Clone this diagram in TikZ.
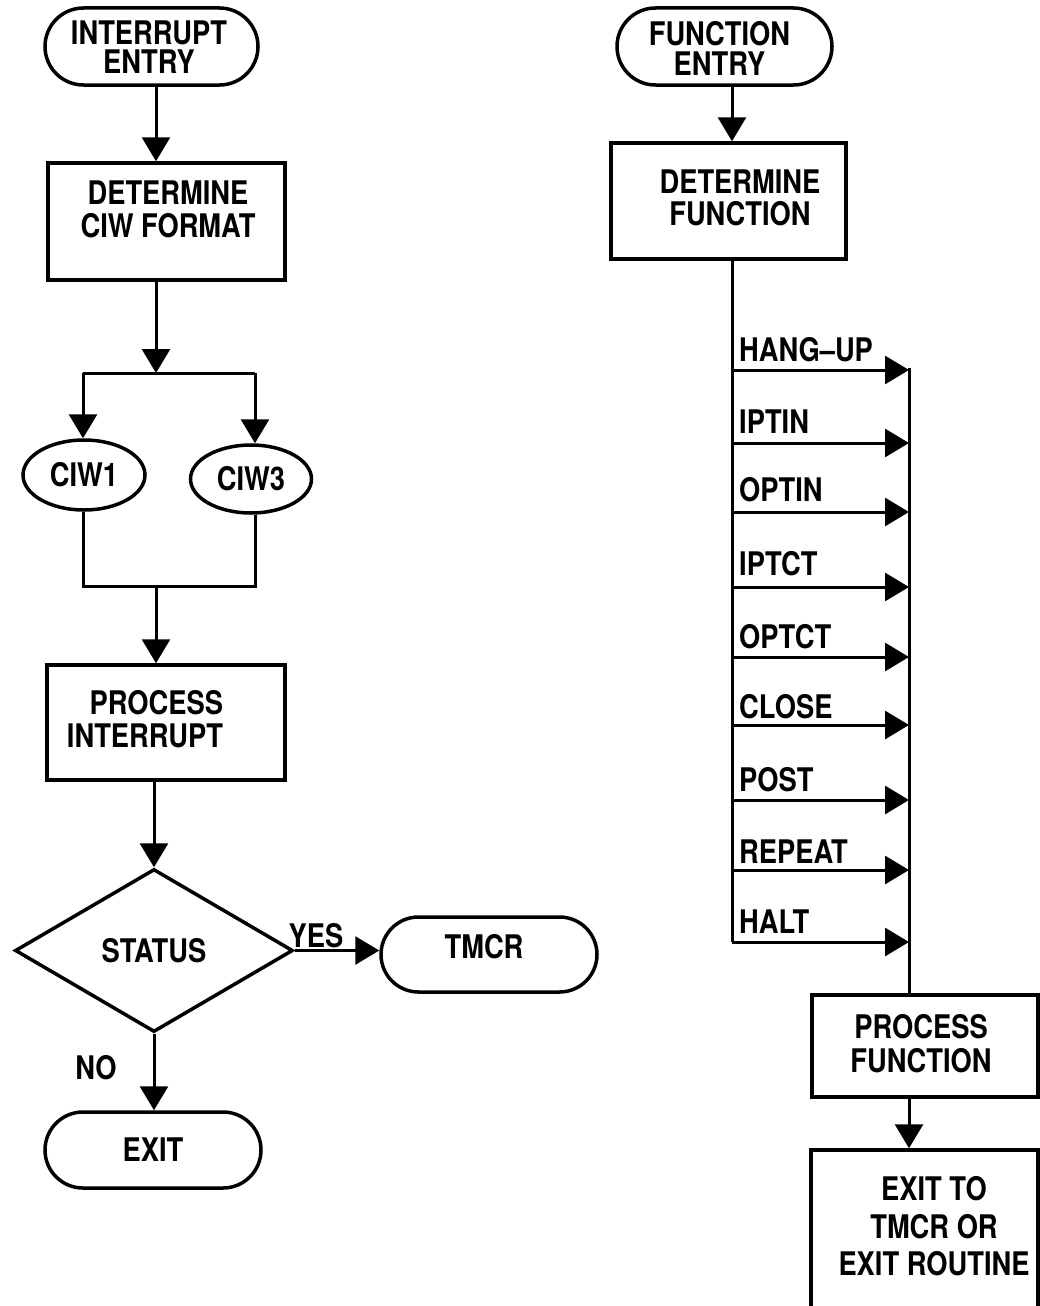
\documentclass[tikz,border=0pt]{standalone}
\usepackage{fontspec}
\newfontfamily\lblfont{TeX Gyre Heros}[FakeStretch=0.84]
\usetikzlibrary{arrows.meta,shapes.geometric,shapes.misc}
\begin{document}
\begin{tikzpicture}[x=1pt,y=-1pt,
  lbl/.style={font=\lblfont\bfseries\fontsize{32.5}{33}\selectfont, inner sep=0pt, align=center},
  shp/.style={draw, line width=3.5pt},
  term/.style={shp, rounded rectangle, inner sep=0pt, lbl},
  boxn/.style={shp, rectangle, inner sep=0pt},
  ell/.style={shp, ellipse, inner sep=0pt, lbl},
  dia/.style={shp, diamond, inner sep=0pt, lbl},
  flow/.style={line width=3pt},
  arr/.style={flow, -{Triangle[length=24pt,width=28pt]}},
]
\clip (0,0) rectangle (1040,1306);
\fill[white] (0,0) rectangle (1040,1306);

% ---------------- left column ----------------
\coordinate (L) at (156,0);
\node[term, minimum width=213pt, minimum height=77pt] (e1) at (151.5,46.5) {};
\node[lbl, font=\lblfont\bfseries\fontsize{32.5}{29.5}\selectfont] (e1t) at (149,47) {INTERRUPT\\ENTRY};

\node[boxn, minimum width=237pt, minimum height=117pt] (b2) at (166.5,221.5) {};
\node[lbl] (b2t) at (168,209) {DETERMINE\\CIW FORMAT};

\coordinate (s1) at (156,373);
\coordinate (s1l) at (83,373);
\coordinate (s1r) at (255,373);
\node[ell, minimum width=122pt, minimum height=70pt] (c1) at (84,475) {CIW1};
\node[ell, minimum width=121pt, minimum height=68pt] (c3) at (251,479) {CIW3};
\coordinate (m1l) at (83,586);
\coordinate (m1r) at (255,586);
\coordinate (m1) at (156,586);

\node[boxn, minimum width=238pt, minimum height=115pt] (b3) at (166,722.5) {};
\node[lbl, align=right] (b3t) at (145,719) {PROCESS\\INTERRUPT};

\node[dia, minimum width=278pt, minimum height=163pt] (d) at (154,950.5) {STATUS};
\node[term, minimum width=216pt, minimum height=75pt] (tm) at (489,954.5) {};
\node[lbl] (tmt) at (484,947) {TMCR};
\node[lbl] (yes) at (316,936) {YES};
\node[lbl] (no) at (96,1068) {NO};
\node[term, minimum width=216pt, minimum height=76pt] (ex) at (153,1150) {EXIT};

\draw[arr] (e1.south -| L) -- (b2.north -| L);
\draw[arr] (b2.south -| L) -- (s1);
\draw[flow] (s1l) -- (s1r);
\draw[arr] (s1l) -- (c1.north -| s1l);
\draw[arr] (s1r) -- (c3.north -| s1r);
\draw[flow] (c1.south -| m1l) -- (m1l) -- (m1r) -- (c3.south -| m1r);
\draw[arr] (m1) -- (b3.north -| m1);
\draw[arr] (b3.south -| d.north) -- (d.north);
\draw[arr] (d.east) -- (d.east -| tm.west);
\draw[arr] (d.south) -- (ex.north -| d.south);

% ---------------- right column ----------------
\coordinate (R) at (732,0);
\node[term, minimum width=215pt, minimum height=77pt] (f1) at (724.5,46.5) {};
\node[lbl, font=\lblfont\bfseries\fontsize{32.5}{30}\selectfont] (f1t) at (719.5,48) {FUNCTION\\ENTRY};
\node[boxn, minimum width=235pt, minimum height=116pt] (f2) at (728.5,201) {};
\node[lbl, font=\lblfont\bfseries\fontsize{32.5}{32}\selectfont] (f2t) at (740,197.5) {DETERMINE\\FUNCTION};

\draw[arr] (f1.south -| R) -- (f2.north -| R);

\coordinate (bl) at (732,942);
\draw[flow] (f2.south -| R) -- (bl);
\coordinate (rb) at (909,368);

\foreach \i/\t/\ty/\ay in {1/HANG–UP/350/370, 2/IPTIN/422/443, 3/OPTIN/490/512,
    4/IPTCT/564/587, 5/OPTCT/637/657, 6/CLOSE/707/725, 7/POST/780/800,
    8/REPEAT/852/870, 9/HALT/922/942}{
  \node[lbl, anchor=west] (k\i) at (739,\ty) {\t};
  \coordinate (a\i) at (732,\ay);
  \coordinate (z\i) at (909,\ay);
  \draw[arr] (a\i) -- (z\i);
}

\node[boxn, minimum width=226pt, minimum height=102pt] (f3) at (925,1046) {};
\node[lbl, font=\lblfont\bfseries\fontsize{32.5}{34}\selectfont] (f3t) at (921,1043.5) {PROCESS\\FUNCTION};
\draw[flow] (rb) -- (f3.north -| rb);

\node[boxn, minimum width=227pt, minimum height=220pt] (f4) at (924.5,1260) {};
\node[lbl, font=\lblfont\bfseries\fontsize{32.5}{37.5}\selectfont] (f4t) at (934,1226.5) {EXIT TO\\TMCR OR\\EXIT ROUTINE};
\draw[arr] (f3.south -| rb) -- (f4.north -| rb);
\end{tikzpicture}
\end{document}
